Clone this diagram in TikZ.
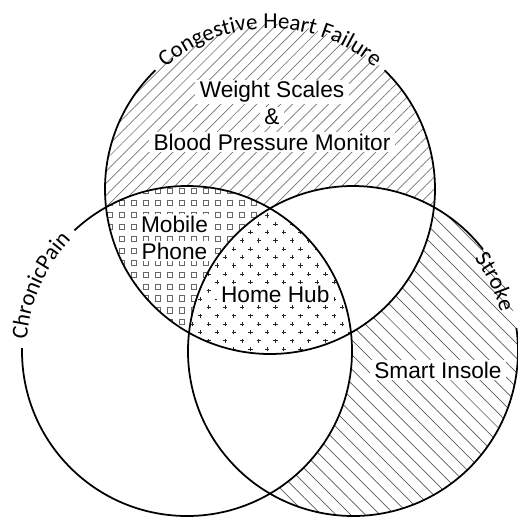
\documentclass[tikz,border=0pt]{standalone}
\usepackage{fontspec}
\setmainfont{Liberation Sans}
\newfontfamily\circfont{Carlito}
\usetikzlibrary{calc,patterns.meta,decorations.text}

% small hollow squares and staggered plus signs
\pgfdeclarepatternformonly{hollowsq}{\pgfqpoint{-0.5pt}{-0.5pt}}{\pgfqpoint{3.5pt}{3.5pt}}{\pgfqpoint{6.8pt}{6.8pt}}{%
	\pgfsetlinewidth{0.4pt}%
	\pgfpathrectangle{\pgfqpoint{0pt}{0pt}}{\pgfqpoint{2.9pt}{2.9pt}}%
	\pgfusepath{stroke}}
\pgfdeclarepatternformonly{plusgrid}{\pgfqpoint{-1.5pt}{-1.5pt}}{\pgfqpoint{6.3pt}{6.3pt}}{\pgfqpoint{9.5pt}{9.5pt}}{%
	\pgfsetlinewidth{0.4pt}%
	\pgfpathmoveto{\pgfqpoint{-1.2pt}{0pt}}\pgfpathlineto{\pgfqpoint{1.2pt}{0pt}}%
	\pgfpathmoveto{\pgfqpoint{0pt}{-1.2pt}}\pgfpathlineto{\pgfqpoint{0pt}{1.2pt}}%
	\pgfpathmoveto{\pgfqpoint{3.55pt}{4.75pt}}\pgfpathlineto{\pgfqpoint{5.95pt}{4.75pt}}%
	\pgfpathmoveto{\pgfqpoint{4.75pt}{3.55pt}}\pgfpathlineto{\pgfqpoint{4.75pt}{5.95pt}}%
	\pgfusepath{stroke}}

\newcommand{\devfont}{\fontsize{12.9}{15}\selectfont}
\newcommand{\ringfont}{\circfont\fontsize{13}{15}\selectfont}

\tikzset{
	ring/.style={line width=1pt},
	chfhatch/.style={pattern={Lines[angle=45,distance=4.8pt,line width=0.4pt]}, pattern color=black!55},
	strokehatch/.style={pattern={Lines[angle=-45,distance=5.9pt,line width=0.4pt]}, pattern color=black!65},
	mobsq/.style={pattern=hollowsq, pattern color=black!60},
	hubplus/.style={pattern=plusgrid, pattern color=black!85},
	dev/.style={font=\devfont, fill=white, inner xsep=2.5pt, inner ysep=1pt, anchor=base},
	ringlab/.style={decorate, decoration={text along path, text align=center, text={|\ringfont|#1}}},
}

\begin{document}
\begin{tikzpicture}
	\useasboundingbox (0,0) rectangle (10.36,10.32);
	
	% ------------------- centres -------------------
	\coordinate (cCHF) at (5.40,6.54);
	\coordinate (cCP) at (3.74,3.30);
	\coordinate (cST) at (7.06,3.30);
	
	% ------------------- region fills -------------------
	\fill[chfhatch] (cCHF) circle[radius=3.3];
	\fill[strokehatch] (cST) circle[radius=3.3];
	\fill[white] (cCP) circle[radius=3.3];
	\begin{scope}
		\clip (cCHF) circle[radius=3.3];
		\fill[white] (cST) circle[radius=3.3];
		\fill[mobsq] (cCP) circle[radius=3.3];
	\end{scope}
	\begin{scope}
		\clip (cCHF) circle[radius=3.3];
		\clip (cCP) circle[radius=3.3];
		\fill[white] (cST) circle[radius=3.3];
		\fill[hubplus] (cST) circle[radius=3.3];
	\end{scope}
	
	% ------------------- outlines (open where the names sit) -------------------
	\draw[ring] ($(cCHF)+(134:3.3)$) arc[start angle=134, end angle=406, radius=3.3];
	\draw[ring] ($(cCP)+(179:3.3)$) arc[start angle=179, end angle=493, radius=3.3];
	\draw[ring] ($(cST)+(38:3.3)$) arc[start angle=38, end angle=368, radius=3.3];
	
	\path[ringlab={Congestive Heart Failure}] ($(cCHF)+(134:3.21)$) arc[start angle=134, end angle=46, radius=3.21];
	\path[ringlab={ChronicPain}] ($(cCP)+(179:3.21)$) arc[start angle=179, end angle=133, radius=3.21];
	\path[ringlab={Stroke}] ($(cST)+(41:3.05)$) arc[start angle=41, end angle=11, radius=3.05];
	
	% ------------------- devices -------------------
	\node[dev] (wsA) at (5.44,8.366) {Weight Scales};
	\node[dev] (wsB) at (5.44,7.834) {\&};
	\node[dev] (wsC) at (5.44,7.314) {Blood Pressure Monitor};
	\node[dev] (mpA) at (3.49,5.674) {Mobile};
	\node[dev] (mpB) at (3.49,5.14) {Phone};
	\node[dev] (hub) at (5.506,4.266) {Home Hub};
	\node[dev] (sole) at (8.76,2.76) {Smart Insole};
	
\end{tikzpicture}
\end{document}
